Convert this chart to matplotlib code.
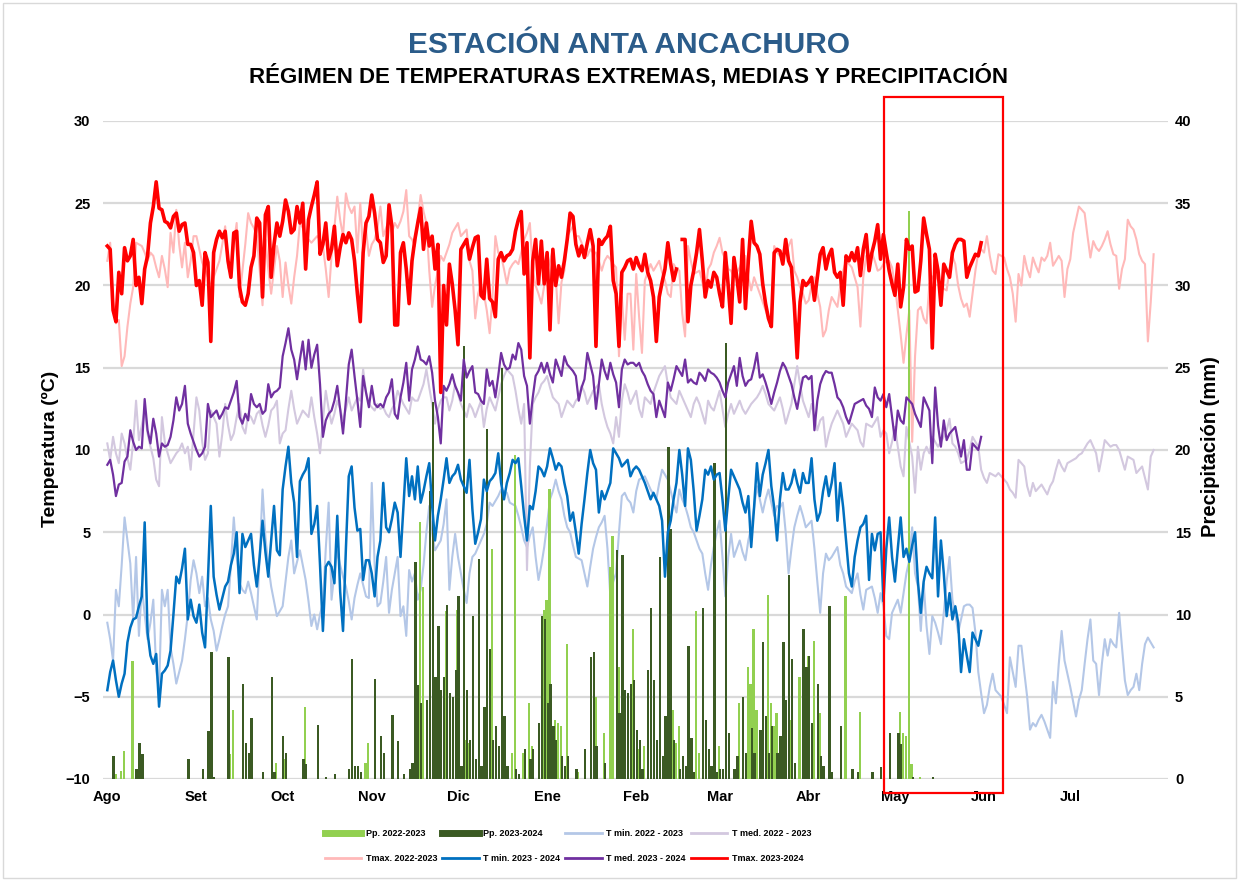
import numpy as np
import matplotlib.pyplot as plt
from matplotlib.lines import Line2D
from matplotlib.patches import Rectangle

nan = np.nan

meses = ['Ago', 'Set', 'Oct', 'Nov', 'Dic', 'Ene', 'Feb', 'Mar', 'Abr', 'May', 'Jun', 'Jul']
inicio_mes = [0, 31, 61, 92, 122, 153, 184, 213, 244, 274, 305, 335]

# campaña 2023-2024 (ago 2023 - may 2024), valores diarios
tmax_23 = [22.4, 22.2, 18.5, 17.8, 20.8, 19.5, 22.3, 21.5, 21.8, 22.8,
           20, 20.5, 18.9, 21, 21.8, 23.8, 24.8, 26.3, 24.7, 24.6,
           23.9, 23.8, 23.5, 24.2, 24.4, 23.3, 23.7, 23.8, 22.5, 22.5,
           22, 20, 20.3, 18.8, 22, 21.4, 16.6, 22, 22.8, 23.3,
           22.9, 23.3, 21.5, 20.5, 23.2, 23.3, 19.9, 19, 18.8, 19.5,
           21.1, 21.8, 24.1, 23.8, 19.3, 24.3, 24.8, 20.5, 22.5, 23.8,
           23, 23.9, 25.2, 24.5, 23.2, 23.4, 24.8, 23.8, 25, 21,
           24, 24.8, 25.5, 26.3, 21.9, 22.5, 23.8, 21.6, 22.2, 23.6,
           21.2, 22.3, 23.1, 22.6, 23.2, 22.8, 21.5, 19.5, 17.8, 22,
           23.8, 24.2, 25.5, 24.4, 22.8, 22.6, 21.4, 21.8, 24.9, 23.6,
           17.6, 17.6, 22, 22.6, 21, 18.9, 21.5, 22.8, 23.8, 24.7,
           22.2, 23.8, 22.4, 23, 21, 22.5, 13.5, 20, 17.6, 21.3,
           20.1, 18.5, 16.4, 22.2, 22.5, 22.8, 21.6, 22.3, 22.9, 23,
           19.4, 19.2, 21.6, 19.2, 19, 18.1, 21.6, 22, 21.5, 21.8,
           21.9, 22.2, 23.3, 24, 24.5, 20.7, 22.6, 15.6, 21.5, 22.8,
           20.1, 22.7, 20.1, 22, 17.3, 22.2, 20, 21.2, 20.5, 21.5,
           22.8, 24.4, 24.2, 22.5, 21.8, 22.4, 21.7, 22.6, 23.4, 22.4,
           16.3, 22.8, 22.5, 22.8, 23, 23.6, 20.3, 19.5, 16.3, 20.8,
           21.1, 21.5, 21.6, 21, 21.7, 21.2, 20.9, 21.9, 20.8, 20.3,
           19.3, 16.6, 19.3, 20.2, 21, 22.6, 21.3, 20.3, 21, nan,
           22.8, 22.8, 17.8, 20, 20.9, 22, 23.4, 21.5, 19.3, 20.3,
           19.9, 20.8, 20.5, 19.5, 18.7, 22, 20, 17.7, 21.7, 20.5,
           19, 22.8, 18.6, 21.5, 23.9, 22.6, 22.4, 21.9, 20.1, 18.9,
           18, 17.5, 22, 22.2, 22.1, 21.3, 22.8, 21.5, 21.1, 18.8,
           15.6, 19, 20.3, 20, 20.2, 20.5, 19.1, 20.5, 21.9, 22.3,
           21, 21.8, 22.2, 20.8, 20.5, 20.8, 18.8, 21.8, 21.5, 22,
           21.5, 22.3, 20.6, 22.2, 23.1, 20.9, 22, 22.7, 23.7, 21.6,
           23.1, 22, 20.9, 20.1, 19.4, 21.3, 18.7, 19.9, 22.8, 22.2,
           22.4, 19.6, 19.7, 21.5, 24.1, 23.1, 22.2, 16.2, 21.9, 20.9,
           18.8, 21.3, 20.9, 20.5, 22, 22.5, 22.8, 22.8, 22.7, 20.5,
           21.1, 21.5, 21.9, 21.8, 22.6]

tmed_23 = [9.1, 9.4, 8.5, 7.2, 7.9, 8, 9.3, 9.6, 11.2, 10.5,
           10, 10.2, 10.1, 13.1, 11.2, 10.4, 11.9, 11, 9.6, 10.4,
           10.2, 10.3, 10.8, 11.8, 13.2, 12.4, 12.8, 13.9, 11.6, 11,
           10.5, 10, 9.6, 9.8, 10.2, 12.8, 12, 12.2, 12.4, 11.9,
           12.2, 12.6, 12.5, 13, 13.5, 14.2, 12, 11.6, 12.2, 11.8,
           13.4, 12.8, 12.6, 12.8, 12.2, 12.4, 14, 13.2, 13.5, 13.6,
           13.8, 15.7, 16.5, 17.4, 16.1, 15.5, 14.3, 15.5, 16.6, 14.9,
           16.7, 15, 15.8, 16.4, 14, 10.8, 11.8, 12.2, 12.4, 13,
           13.9, 12.5, 11, 13, 15.2, 16.1, 14.5, 13, 11.4, 14.5,
           13.5, 12.6, 13.9, 12.8, 12.6, 12.8, 12.6, 13.2, 13.5, 14.3,
           12.2, 11.9, 13.2, 14.1, 15.3, 13, 14.9, 15.5, 16.3, 15.5,
           15.4, 15.2, 15.7, 14.7, 13, 12, 10.4, 13.9, 13.6, 14,
           14.6, 13.9, 13.5, 13, 15.5, 14.4, 14.8, 15.1, 13.5, 13.4,
           13, 12.8, 14.9, 13.9, 14.2, 13.2, 14.5, 15.9, 15.2, 14.9,
           15, 15.8, 15.5, 16.5, 16.1, 14.5, 13.9, 11.6, 13.2, 14.5,
           14.8, 15.3, 14.7, 15.3, 14.6, 14.1, 15.5, 15, 14.5, 15.7,
           15.2, 15, 14.8, 14.5, 13, 13.8, 14.3, 15.9, 15.2, 14.5,
           12.5, 14, 15.5, 14.8, 14.3, 15.3, 14.6, 14.1, 12.6, 14.9,
           15.5, 15.2, 15.3, 15.3, 15.1, 15.3, 14.8, 14.5, 14, 13.6,
           13.4, 12, 13, 12.5, 12, 14.1, 13.6, 14.3, 15.1, 14.8,
           14.5, 15.5, 14.1, 14.3, 14.1, 14, 14.7, 14.5, 14.2, 14.9,
           14.7, 14.6, 14.4, 14.1, 13.6, 13.2, 14.1, 14.6, 15.1, 13.9,
           15.6, 14.5, 13.9, 14.2, 14.3, 15, 15.9, 14.4, 14.6, 14.1,
           13.5, 12.8, 13.5, 14.1, 14.8, 15.3, 15, 14.5, 14, 13.2,
           12.5, 13.5, 14.4, 14.5, 14.3, 14.5, 11.2, 13, 14, 14.5,
           14.8, 14.7, 14.7, 14, 13.2, 13, 12.6, 12, 11.6, 12.2,
           12.8, 12.9, 13, 13.1, 12.7, 12.5, 12, 13.8, 13.2, 13,
           13.4, 12.6, 13.4, 12, 10.6, 12.4, 11.8, 11.6, 13.2, 13,
           12.8, 12.2, 11.8, 11.4, 13.2, 12.8, 12.4, 9.2, 13.8, 11.5,
           10.2, 11.8, 10.6, 11, 11.2, 11.4, 10.5, 9.6, 10.6, 8.8,
           8.8, 10.4, 10.2, 10, 10.8]

tmin_23 = [-4.6, -3.5, -2.8, -4, -5, -4.2, -3.6, -1.7, -0.8, -0.3,
           -0.2, 0.5, 1.1, 5.6, -1.1, -2.5, -3, -2.4, -5.6, -3.6,
           -3.4, -3.1, -2.2, 0, 2.3, 1.9, 2.8, 4, -0.3, 0.9,
           -0.1, -0.5, 0.6, -1.1, -2, 2.1, 6.6, 2.3, 1.2, 0.3,
           1, 1.7, 2, 3, 3.7, 5, 1.3, 4.9, 4.1, 4.5,
           4.9, 3, 1.7, 3.5, 5.7, 3.8, 2.3, 4.5, 6.6, 3.9,
           3.6, 7.6, 9, 10.2, 8, 6.8, 3.5, 8.1, 8.5, 8.8,
           9.5, 4.9, 5.5, 6.6, 3, -1, 2.9, 3.2, 2.9, 1.9,
           6, 1.4, -1, 4, 8.4, 9, 6.5, 5.1, 5.2, 2.1,
           3.3, 3.3, 2.5, 1.1, 3.5, 4.5, 8, 5.3, 5, 5.8,
           6.8, 6.2, 3.5, 6.5, 9.5, 7.2, 8.4, 7, 9, 6.8,
           7.5, 8.4, 9.2, 6.6, 4.5, 6, 7, 8.2, 9.5, 8,
           8.4, 8.6, 9.1, 8.2, 7.8, 7.4, 9.4, 6.4, 4.3, 5,
           5.8, 8.2, 7.5, 8.1, 8.3, 8.6, 9.8, 8, 7, 8,
           8.6, 9.4, 9.2, 9.5, 7.8, 6, 4.5, 6.6, 6.4, 7.5,
           9, 8.8, 8.4, 9, 10.1, 9.5, 8.8, 9.2, 9, 8,
           7.2, 5.7, 6.2, 5, 3.7, 5.5, 7, 8.6, 10, 9.2,
           8.8, 6.2, 7.5, 7, 7.5, 8, 10.1, 9.8, 9.5, 9,
           9.2, 9.4, 8.4, 8.8, 9, 8.8, 8.4, 8, 7.5, 7,
           7.4, 7, 6.6, 5.7, 2.3, 5, 5.7, 7, 8, 10,
           8.5, 6.6, 10.1, 9.4, 7.5, 5.1, 6, 7, 8.8, 8.5,
           9, 8.2, 8.5, 8.6, 7, 5.1, 7, 8.8, 8.4, 8,
           7.6, 6.8, 6.2, 7.2, 4.1, 6.5, 9.2, 7.2, 8.5, 9.2,
           10, 7.8, 6.5, 4.5, 7, 8.6, 7.6, 7.6, 8, 8.8,
           8, 7.4, 8.6, 8, 8, 9.5, 7, 5.7, 6.2, 7.5,
           8.4, 7.2, 8, 9.2, 5.7, 8, 6.5, 4.5, 2.5, 1.7,
           3.5, 4.5, 5.3, 5.5, 6, 2.1, 4.9, 3.9, 4.9, 5,
           0.8, 4, 5.9, 3.5, 2, 4, 5.9, 3.5, 4, 3.2,
           4.2, 5, 2, 0.1, 2, 2.9, 2.5, 2.2, 5.9, 1.1,
           4.5, 2.5, -0.1, 1.3, -0.3, 0.5, -0.5, -3.5, -1.5, -2.5,
           -3.5, -1.1, -1.5, -1.9, -1.0]

# campaña 2022-2023 (ago 2022 - jul 2023)
tmax_22 = [21.5, 22.6, 19, 17.7, 17.9, 15.1, 15.7, 17.5, 18.9, 19.9,
           22.6, 22.5, 22.4, 22, 21.5, 22, 21.8, 21.1, 20.5, 21.8,
           21, 19.9, 23.2, 22, 24.6, 22.5, 21.1, 22.6, 20.5, 21.5,
           23, 23, 22.2, 21.4, 21, 20.5, 19.9, 20.5, 21, 21.5,
           22.5, 23.6, 21.1, 20.7, 22.5, 23.8, 19.3, 20.9, 22.5, 24.4,
           23.8, 23.5, 23, 21, 18.8, 22.8, 21, 19.5, 21, 22.4,
           21.5, 19.3, 21.4, 20, 18.9, 20.5, 21.8, 23.8, 23.5, 23,
           22.8, 22.6, 22.8, 23, 22.8, 22.4, 21, 19.3, 21.8, 23.5,
           25.4, 24, 23, 25.6, 24.8, 24.4, 24.8, 22, 25, 22,
           23.4, 21.8, 22.5, 22.8, 23.5, 24.8, 23, 23.5, 24, 23.2,
           23.8, 23.5, 23.9, 24.5, 25.8, 23, 22.8, 22.4, 24, 25.5,
           24.5, 23.8, 20.9, 18.7, 20, 20.9, 21.8, 21.5, 22, 22.5,
           23.2, 23.5, 23.8, 23, 23.2, 23.4, 21.5, 20.9, 18, 19.5,
           20.1, 19.5, 18.5, 17.1, 19.3, 23, 22, 21.8, 21, 20.1,
           21, 21.3, 21.5, 21.3, 22, 22.8, 23.2, 23.8, 20.9, 20,
           19.5, 18.9, 20, 20.9, 21.5, 22.2, 20.5, 17.7, 20.2, 20.9,
           23, 23.3, 23.6, 23, 23, 22.6, 22, 21.8, 22.2, 22,
           22, 21.5, 20.9, 21.5, 21.8, 21.6, 21.3, 21.1, 15.7, 19.3,
           16.7, 19.5, 19.5, 16.1, 20.7, 18.1, 15.9, 20.3, 20.8, 21.3,
           20.9, 21.2, 21.5, 20.8, 20.3, 19.5, 19.3, 21.3, 21, 20.9,
           18.3, 16.9, 22.4, 21.5, 20.7, 20.8, 20.9, 20.2, 19.5, 21,
           21.3, 22, 22.4, 22.9, 22, 21.6, 21, 20.9, 20.5, 20.8,
           21.1, 21.5, 21.8, 20.5, 19.7, 20.5, 20, 19.5, 19, 18.5,
           18, 17.7, 22.4, 22, 21.8, 21.9, 22, 22.4, 22.8, 20.9,
           20.5, 19.9, 19.5, 18.9, 19.1, 20, 20.5, 19.5, 18.7, 16.9,
           17.3, 18.5, 19.3, 19, 18.7, 20, 20.9, 21.5, 21.3, 21.1,
           20.5, 19.9, 17.5, 20.5, 21.8, 21.9, 22, 21.5, 20.9, 21,
           21.3, 21.5, 21.5, 21.1, 20, 18.5, 17, 15.3, 17, 18.5,
           10.5, 15.7, 18.5, 18.7, 18, 17.7, 20.1, 20.5, 20.7, 20.3,
           19.9, 19.8, 19.7, 21, 21.8, 21.3, 20, 19.2, 18.7, 18.9,
           18.1, 19.5, 20.9, 22, 22.2, 22, 23, 21.8, 20.9, 20.7,
           21.9, 21.8, 21.7, 21, 20.5, 19.5, 17.8, 20.7, 20, 21.8,
           21, 20.5, 21.7, 21.2, 20.8, 21.7, 21.5, 21.8, 22.6, 21.2,
           21.5, 21.8, 21.5, 19.3, 21, 21.6, 23.2, 24, 24.8, 24.6,
           24.4, 23, 21.7, 22.7, 22.3, 22.1, 22.4, 22.8, 23.3, 22.5,
           21.9, 21.8, 19.8, 21, 21.6, 24, 23.6, 23.4, 22.8, 21.9,
           21.5, 21.3, 16.6, 19, 21.9]

tmed_22 = [10.4, 9.4, 10.8, 9.8, 9.2, 11, 10.4, 9.5, 8.8, 10.5,
           13, 10.6, 11.5, 12.4, 11, 10.2, 9.5, 8.2, 7.8, 12,
           10.5, 9.8, 9.2, 9.5, 9.8, 10, 10.4, 9.8, 10.2, 8.8,
           11, 13.2, 12.4, 10.5, 9.4, 9.8, 12.4, 12, 11.6, 9.6,
           11, 12.8, 11.5, 10.6, 11, 12, 12.8, 11.4, 11, 12.2,
           12, 11.6, 12.2, 12.4, 11.5, 10.8, 11.5, 12.4, 12.6, 13,
           10.4, 11, 11.2, 12.5, 13.6, 12.5, 11.6, 12, 12.4, 12.2,
           12, 13.2, 12, 11, 9.8, 11.8, 13.6, 12.5, 11.6, 12.2,
           13, 12.5, 11.8, 12.5, 13.2, 12.4, 12.8, 13.2, 13, 14.9,
           13.5, 12.8, 12.6, 12.4, 12.8, 12.5, 12.6, 12.2, 12, 12.5,
           12.8, 13.6, 13.2, 12.8, 12.5, 12.2, 13.2, 13, 13, 13.5,
           14, 14.9, 13.8, 12.8, 11.6, 12.5, 13, 13.2, 13.2, 12.4,
           13, 14, 13.4, 12.8, 12.4, 12, 12.8, 12.5, 12, 12.5,
           13, 11.4, 12.5, 13.2, 12.8, 12.4, 13.2, 14, 14.5, 14.9,
           14.7, 14.5, 13.6, 12.5, 11.6, 12.8, 2.7, 9, 12.8, 13.2,
           13.5, 14, 14.2, 14.5, 13.8, 13.2, 13, 12.8, 12, 12.5,
           13, 12.8, 12.6, 13, 13.2, 13.9, 13.5, 12.8, 13.2, 13.6,
           13.8, 14, 12.8, 12, 11.4, 11, 10.4, 12, 10.8, 13,
           14, 13.5, 12.8, 13.2, 13.6, 12.5, 12, 13.2, 13, 12.8,
           13.5, 14, 14.5, 14.8, 15.1, 14, 13.2, 13, 12.8, 13.6,
           13.2, 12.8, 12.4, 12, 12.8, 13.2, 12.8, 12.2, 11.6, 13,
           12.6, 12.4, 13, 13.6, 12.5, 11.4, 12.2, 12.8, 12.2, 12.6,
           13, 12.5, 12.2, 12.5, 12.8, 13, 13.2, 13.5, 13.9, 13.4,
           12.8, 12.6, 12.4, 12.8, 13.2, 12.5, 11.6, 12.2, 12.8, 14,
           15.1, 14, 13, 12.5, 12, 12.8, 12, 11.2, 11.8, 12,
           10.2, 11, 11.6, 12, 12.4, 12, 11.6, 10.8, 11.2, 11.6,
           11.4, 11.2, 10.5, 10.2, 11.6, 11.5, 11.4, 11.7, 12, 10.8,
           11.2, 11, 9.8, 10.5, 11.4, 10.2, 9, 8.4, 11.4, 10.5,
           9.6, 7.4, 10.2, 8.8, 9.8, 10.2, 9.8, 10.8, 10.5, 10.2,
           10.5, 10.8, 11.2, 11.9, 10.4, 10.2, 9.8, 9.2, 9.3, 9.4,
           10, 10.8, 10.5, 10.2, 8.8, 8.3, 8, 8.6, 8.5, 8.4,
           8.6, 8.4, 8.2, 8, 7.6, 7.4, 7.1, 9.4, 9.2, 9,
           7.8, 7.2, 8, 7.5, 7.7, 7.9, 7.6, 7.3, 7.8, 8.1,
           8.8, 9.4, 9, 8.7, 9.2, 9.3, 9.4, 9.5, 9.7, 9.8,
           10.1, 10.4, 10.6, 10.2, 9.8, 8.7, 9.6, 10.6, 10.4, 10.2,
           10.3, 10.3, 10, 9.4, 8.8, 9.6, 9.5, 9.4, 8.6, 8.8,
           9, 8.3, 7.6, 9.6, 10]

tmin_22 = [-0.5, -1.5, -2.8, 1.5, 0.5, 3, 5.9, 4.5, 3.1, -0.3,
           3.5, -1.3, 1.7, 0, -1.5, -0.5, 0.9, -3.4, -4.6, 1.5,
           0.5, 1.5, -2, -3, -4.2, -3.5, -2.8, -1.5, 0, 2.1,
           3.3, 2.5, 1.3, 2.3, 0.5, 1, -0.3, -1, -2.2, -1.5,
           -0.7, 0, 0.5, 3, 5.9, 3.5, 1.9, 1.5, 1.3, 2,
           1.3, 0.5, -0.3, 3.5, 7.6, 4.7, 3, 1.7, 0.8, -0.1,
           0.2, 0.5, 2, 3.5, 4.5, 2.5, 3.2, 3.9, 3, 2.1,
           0.8, -0.7, 0, -0.9, 0, 0.7, 4, 6.8, 0.9, 2.5,
           3.9, 3, 2.3, 1.7, 0.8, -0.3, 1, 1.8, 2.5, 1.8,
           1.1, 1, 8, 3, 0.5, 0.7, 2, 3.5, 0.1, 1.5,
           2.5, 3.5, -0.1, 0.5, -1.3, 2.7, 2, 2.5, 0.9, 1.5,
           3, 5, 6.6, 5, 3.9, 4.2, 4.5, 5.5, 7, 1.5,
           3.5, 4.9, 3.5, 2.5, 1.5, 0.7, 2.5, 3.5, 3.7, 4.1,
           4.5, 4.9, 5.5, 6.8, 6.6, 6.9, 7.2, 7.6, 7.5, 7.4,
           6.8, 6.7, 6.6, 6, 5.3, 4.5, 4.1, 4.8, 5.3, 3.5,
           2.1, 3, 4.1, 5.5, 7, 7.5, 8.2, 7.5, 7, 6,
           5.3, 5, 4.2, 3.5, 3.4, 3.3, 2.5, 1.7, 2.9, 4,
           4.7, 5.3, 5.6, 6, 4, 1.1, 2, 2.5, 5, 7.2,
           7.4, 7, 6.8, 6.2, 7.5, 8.2, 8.3, 8.4, 8, 7.6,
           7.3, 7, 8, 8.8, 8.5, 8.2, 7.5, 6.8, 6.2, 7.6,
           7, 6.6, 6, 5.3, 5, 4.5, 4, 3.7, 2.5, 1.5,
           3, 4.1, 5, 5.7, 3.5, 1.1, 3.5, 4.9, 3.5, 4,
           4.5, 3.8, 3.3, 4.5, 5.3, 6.5, 7.8, 7, 6.2, 7,
           7.6, 6.8, 6, 6.6, 6.5, 6.8, 5, 2.5, 4, 5.3,
           6, 6.6, 6, 5.3, 5.5, 5.7, 4, 2, 0.1, 2.5,
           3.7, 3.3, 3.5, 3.8, 4.1, 3, 2.5, 1.7, 1.5, 1.3,
           2, 2.5, 1.2, 0.3, 1.5, 1.6, 1.7, 1, 0.1, 1.3,
           0.5, -1.3, -1.5, 0.1, 0.5, 0.9, 0.1, 1.3, 2.5, 3.3,
           5.3, 2.5, 1.7, -1, 1.9, -0.7, -2.4, -0.1, -0.5, -1.1,
           -1.8, 0.1, 2, 3.5, 0.9, 0, -1.1, -0.3, 0.5, 0.6,
           0.6, 0.4, -1.1, -3.5, -4.8, -6, -5.5, -4.4, -3.6, -4.6,
           -4.8, -5, -5.5, -6, -2.6, -3.5, -4.4, -1.9, -1.9, -3.5,
           -5, -7, -6.6, -6.8, -6.4, -6.1, -6.5, -7, -7.5, -4.1,
           -5.4, -3, -1, -2.8, -3.6, -4.4, -5.3, -6.2, -5.2, -4.6,
           -3, -1.5, -0.3, -2.8, -3, -4.9, -3, -1.5, -2.5, -1.5,
           -1.8, -2, 0.1, -2, -4, -4.9, -4.6, -4.4, -3.6, -4.6,
           -3, -1.8, -1.4, -1.7, -2]

# precipitación diaria (mm): día del año hidrológico -> lámina
lluvia_22 = {3: 0.3, 5: 0.5, 6: 1.7, 9: 7.2, 43: 1.5, 44: 4.2, 59: 1, 62: 1.2,
             69: 4.4, 90: 1, 91: 2.2, 109: 15.6, 110: 11.7, 118: 10.2, 122: 10.3,
             125: 2.4, 126: 2.2, 134: 14, 138: 1, 141: 1.6, 142: 19.7, 145: 1.6,
             147: 4.6, 148: 2, 152: 10.3, 153: 10.9, 154: 17.6, 156: 3.6, 157: 3.4,
             158: 3.2, 160: 8.2, 164: 0.4, 170: 5, 173: 2.8, 175: 12.9, 176: 14.8,
             178: 6.8, 183: 9.1, 185: 1.8, 187: 2, 197: 4.2, 198: 2.2, 199: 3.2,
             205: 10.2, 206: 1.6, 213: 2, 220: 4.6, 223: 6.8, 224: 5.8, 225: 9.1,
             226: 4.2, 230: 11.2, 231: 4.6, 232: 3.2, 233: 4, 238: 3.6, 241: 6.2,
             244: 7.5, 246: 8.4, 248: 4, 257: 11.1, 262: 4.1, 276: 4.1, 277: 2.8,
             278: 2.6, 279: 34.5, 280: 0.9, 283: 0.1}

lluvia_23 = {2: 1.4, 10: 0.6, 11: 2.2, 12: 1.5, 28: 1.2, 33: 0.6, 35: 2.9, 36: 7.7,
             37: 0.1, 42: 7.4, 47: 5.8, 48: 2.2, 49: 1.6, 50: 3.7, 54: 0.4, 57: 6.2,
             58: 0.4, 61: 2.6, 62: 1.6, 68: 1.2, 69: 0.9, 73: 3.3, 76: 0.1, 79: 0.3,
             84: 0.6, 85: 7.3, 86: 0.8, 87: 0.8, 88: 0.4, 93: 6.1, 95: 2.6, 96: 1.6,
             99: 3.9, 101: 2.3, 103: 0.3, 105: 0.6, 106: 1, 107: 13.2, 108: 5.7,
             109: 4.6, 111: 4.8, 112: 17.5, 113: 22.9, 114: 6.2, 115: 9.3, 116: 5.4,
             117: 6.2, 118: 10.6, 119: 5.2, 120: 5, 121: 6.6, 122: 11.1, 123: 0.8,
             124: 26.3, 125: 5.4, 126: 2.4, 127: 9.9, 128: 1.2, 129: 13.4, 130: 0.8,
             131: 4.4, 132: 21.3, 133: 7.9, 134: 2.4, 135: 3.2, 136: 2, 137: 25,
             138: 3.8, 139: 0.8, 142: 0.6, 143: 0.3, 145: 1.8, 147: 1.2, 148: 1.8,
             150: 3.4, 151: 9.9, 152: 9.7, 153: 4.6, 154: 5.8, 155: 3.2, 156: 2.4,
             158: 1.4, 159: 0.8, 160: 1.4, 163: 0.6, 166: 1.8, 168: 7.4, 169: 7.7,
             170: 2, 173: 1, 177: 13.9, 178: 4, 179: 13.6, 180: 5.4, 181: 5.2,
             182: 5.8, 183: 6, 184: 3, 185: 2.4, 186: 0.6, 188: 6.6, 189: 10.4,
             190: 6, 191: 2.4, 192: 13.5, 193: 1.4, 194: 3.8, 195: 20.2, 196: 15.2,
             197: 2.4, 199: 0.6, 200: 1.4, 201: 0.8, 202: 8.1, 203: 2.5, 204: 0.4,
             207: 10.4, 208: 3.6, 209: 1.8, 210: 0.8, 211: 19.2, 212: 0.4, 213: 0.6,
             214: 0.6, 215: 26.5, 216: 2.8, 218: 0.6, 219: 1.4, 221: 5, 222: 1.6,
             224: 3.1, 225: 1.6, 227: 3, 228: 8.3, 229: 3.8, 230: 1.6, 231: 3.2,
             233: 1.6, 234: 2.6, 235: 8.3, 236: 4.8, 237: 12.4, 238: 7.3, 239: 1,
             242: 9.1, 243: 6.8, 244: 7.5, 245: 3.4, 247: 5.8, 248: 1.4, 249: 0.8,
             251: 10.5, 252: 0.4, 255: 3.2, 259: 0.6, 261: 0.4, 266: 0.4, 269: 0.7,
             272: 2.8, 275: 2.8, 276: 2.1, 280: 0.1, 287: 0.1}

plt.rcParams['font.family'] = ['Liberation Sans', 'DejaVu Sans']
plt.rcParams['font.weight'] = 'bold'

W, H = 1239, 881
fig = plt.figure(figsize=(W / 100, H / 100), dpi=100)
ax = fig.add_axes([103 / W, 1 - 779 / H, 1065 / W, 658 / H])

d22 = np.arange(len(tmax_22))
d23 = np.arange(len(tmax_23))

# eje de precipitación: 0-40 mm sobre -10..30 ºC  ->  t = mm - 10
base = -10
ax.bar(np.array(list(lluvia_22.keys())) - 0.2, list(lluvia_22.values()), width=0.8,
       bottom=base, color='#92D050', lw=0, zorder=2)
ax.bar(np.array(list(lluvia_23.keys())) + 0.2, list(lluvia_23.values()), width=0.8,
       bottom=base, color='#3B5A23', lw=0, zorder=2)

ax.plot(d22, tmin_22, color='#B4C7E7', lw=1.5, zorder=1.6)
ax.plot(d22, tmed_22, color='#D3C8DF', lw=1.5, zorder=1.6)
ax.plot(d22, tmax_22, color='#FFB9B9', lw=1.5, zorder=1.6)
ax.plot(d23, tmin_23, color='#0070C0', lw=1.8, zorder=3)
ax.plot(d23, tmed_23, color='#7030A0', lw=1.6, zorder=3)
ax.plot(d23, tmax_23, color='#FF0000', lw=2.6, zorder=3)

ax.set_xlim(-1.5, 369)
ax.set_ylim(-10, 30)
ax.set_yticks(np.arange(-10, 31, 5))
ax.set_xticks(inicio_mes)
ax.set_xticklabels(meses)
ax.grid(axis='y', color='#D9D9D9', lw=1.6)
ax.set_axisbelow(True)
for s in ax.spines.values():
    s.set_visible(False)
ax.tick_params(length=0, labelsize=10.5)
ax.tick_params(axis='x', pad=8)
ax.tick_params(axis='y', pad=9)

ax2 = ax.secondary_yaxis('right', functions=(lambda t: t + 10, lambda p: p - 10))
ax2.set_yticks(np.arange(0, 41, 5))
ax2.tick_params(length=0, labelsize=10.5, pad=5)
for s in ax2.spines.values():
    s.set_visible(False)

fig.text(0.508, 1 - 45 / H, 'ESTACIÓN ANTA ANCACHURO', ha='center', va='center',
         fontsize=21.5, color='#2B5C8A', fontweight='bold')
fig.text(0.507, 1 - 76 / H, 'RÉGIMEN DE TEMPERATURAS EXTREMAS, MEDIAS Y PRECIPITACIÓN',
         ha='center', va='center', fontsize=16, fontweight='bold')
fig.text(50 / W, 1 - 449 / H, 'Temperatura (ºC)', rotation=90, ha='center', va='center',
         fontsize=14, fontweight='bold')
fig.text(1210 / W, 1 - 447 / H, 'Precipitación (mm)', rotation=90, ha='center', va='center',
         fontsize=14.5, fontweight='bold')

handles = [
    Line2D([], [], color='#92D050', lw=5),
    Line2D([], [], color='#3B5A23', lw=5),
    Line2D([], [], color='#B4C7E7', lw=2),
    Line2D([], [], color='#D3C8DF', lw=2),
    Line2D([], [], color='#FFB9B9', lw=2),
    Line2D([], [], color='#0070C0', lw=2),
    Line2D([], [], color='#7030A0', lw=2),
    Line2D([], [], color='#FF0000', lw=2),
]
labels = ['Pp. 2022-2023', 'Pp. 2023-2024', 'T min. 2022 - 2023', 'T med. 2022 - 2023',
          'Tmax. 2022-2023', 'T min. 2023 - 2024', 'T med. 2023 - 2024', 'Tmax. 2023-2024']
orden = [0, 4, 1, 5, 2, 6, 3, 7]
fig.legend([handles[i] for i in orden], [labels[i] for i in orden], ncol=4,
           loc='center', bbox_to_anchor=(568 / W, 1 - 846 / H), frameon=False,
           fontsize=6.5, handlelength=4.0, handletextpad=0.5, columnspacing=0.6,
           labelspacing=1.7)

fig.add_artist(Rectangle((884 / W, 1 - 793 / H), 119 / W, 696 / H, transform=fig.transFigure,
                         fill=False, ec='#FF0000', lw=1.6))
fig.add_artist(Rectangle((3 / W, 3 / H), 1233 / W, 875 / H, transform=fig.transFigure,
                         fill=False, ec='#D9D9D9', lw=1))

fig.savefig('out.png', dpi=100)
